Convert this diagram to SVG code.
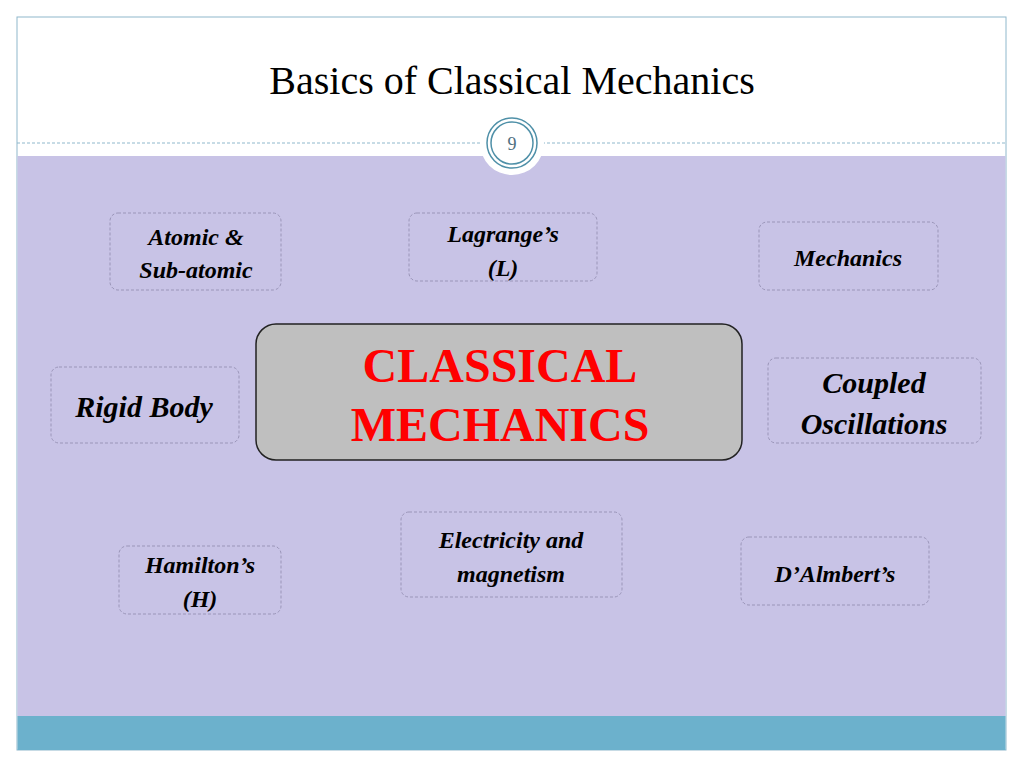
<svg xmlns="http://www.w3.org/2000/svg" width="1024" height="768" viewBox="0 0 1024 768">
<style>
.n{fill:none;stroke:#9a95b8;stroke-width:1;stroke-dasharray:3,2}
.f{font-family:"Liberation Serif","Times New Roman",Tinos,serif}
.t{font-family:"Liberation Serif","Times New Roman",Tinos,serif;font-weight:bold;font-style:italic;fill:#000;text-anchor:middle}
</style>
<rect width="1024" height="768" fill="#fff"/>
<rect x="17" y="17" width="989" height="733" fill="none" stroke="#8fb8cc" stroke-width="1"/>
<rect x="17.5" y="156" width="988" height="560" fill="#c8c3e6"/>
<rect x="17.5" y="716" width="988" height="34" fill="#6cb1cc"/>
<line x1="17" y1="143" x2="1006" y2="143" stroke="#8fb8cc" stroke-dasharray="3,2"/>
<text class="f" x="512" y="94" font-size="40" text-anchor="middle" fill="#000">Basics of Classical Mechanics</text>
<circle cx="512" cy="143" r="32" fill="#fff"/>
<circle cx="512" cy="143" r="25" fill="#fff" stroke="#4f90a8" stroke-width="1.5"/>
<circle cx="512" cy="143" r="21" fill="none" stroke="#4f90a8" stroke-width="1.5"/>
<text class="f" x="512" y="150" font-size="18" text-anchor="middle" fill="#4f6f80">9</text>
<g id="connectors"/>
<g id="center"><rect x="256" y="324" width="486" height="136" rx="20" fill="#bfbfbf" stroke="#222" stroke-width="1.5"/>
<text class="f" x="500" y="382" font-weight="bold" font-size="48" fill="#f00" text-anchor="middle">CLASSICAL</text>
<text class="f" x="500" y="441" font-weight="bold" font-size="48" fill="#f00" text-anchor="middle">MECHANICS</text></g>
<g id="atomic"><rect class="n" x="110" y="213" width="171" height="77" rx="8"/><text class="t" x="196" y="245" font-size="24">Atomic &amp;</text><text class="t" x="196" y="278" font-size="24">Sub-atomic</text></g>
<g id="lagrange"><rect class="n" x="409" y="213" width="188" height="68" rx="8"/><text class="t" x="503" y="242" font-size="24">Lagrange’s</text><text class="t" x="503" y="276" font-size="24">(L)</text></g>
<g id="mechanics"><rect class="n" x="759" y="222" width="179" height="68" rx="8"/><text class="t" x="848" y="266" font-size="24">Mechanics</text></g>
<g id="rigid"><rect class="n" x="51" y="367" width="188" height="76" rx="8"/><text class="t" x="144" y="417" font-size="30">Rigid Body</text></g>
<g id="coupled"><rect class="n" x="768" y="358" width="213" height="85" rx="8"/><text class="t" x="874" y="393" font-size="30">Coupled</text><text class="t" x="874" y="434" font-size="30">Oscillations</text></g>
<g id="hamilton"><rect class="n" x="119" y="546" width="162" height="68" rx="8"/><text class="t" x="200" y="573" font-size="24">Hamilton’s</text><text class="t" x="200" y="607" font-size="24">(H)</text></g>
<g id="electricity"><rect class="n" x="401" y="512" width="221" height="85" rx="8"/><text class="t" x="511" y="548" font-size="24">Electricity and</text><text class="t" x="511" y="582" font-size="24">magnetism</text></g>
<g id="dalembert"><rect class="n" x="741" y="537" width="188" height="68" rx="8"/><text class="t" x="835" y="582" font-size="24">D’Almbert’s</text></g>
</svg>
